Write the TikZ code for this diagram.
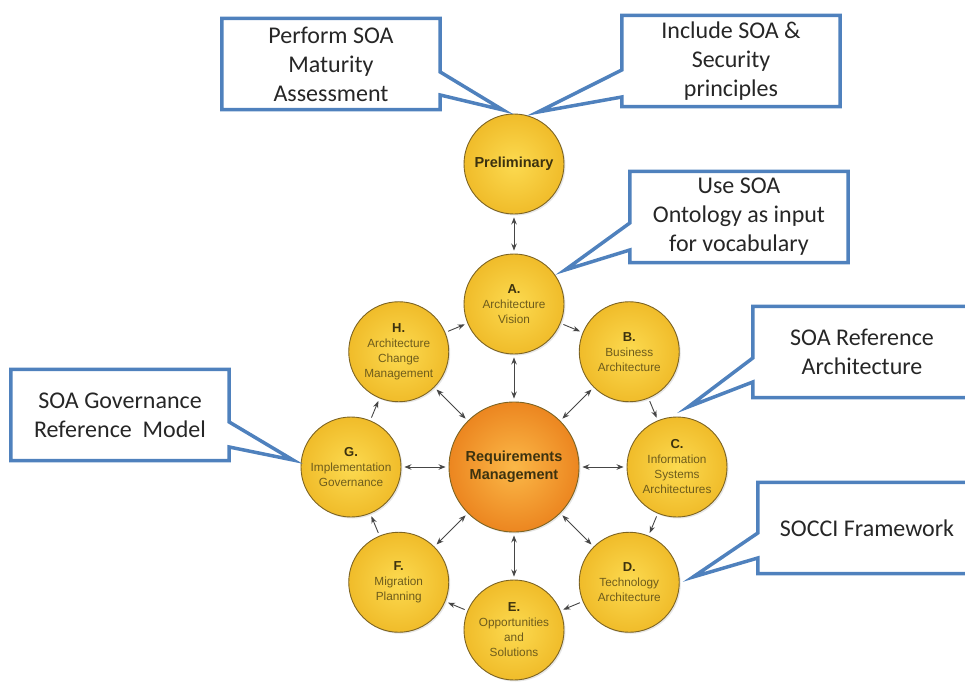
\documentclass[tikz,border=0pt]{standalone}
\usepackage{fontspec}
\setmainfont{Carlito}
\newfontfamily\phasefont{Liberation Sans}
\usetikzlibrary{calc,arrows.meta,shadows}

\definecolor{noteblue}{RGB}{79,129,189}
\definecolor{phaseedge}{RGB}{125,100,35}
\definecolor{phasetext}{RGB}{110,92,28}
\definecolor{phaseletter}{RGB}{60,50,15}
\definecolor{phaselight}{RGB}{252,218,80}
\definecolor{phasedark}{RGB}{240,188,42}
\definecolor{hublight}{RGB}{251,184,72}
\definecolor{hubdark}{RGB}{236,134,32}
\definecolor{linkgray}{RGB}{70,70,70}

\begin{document}
\begin{tikzpicture}[x=1pt, y=-1pt,
    phase/.style={circle, draw=phaseedge, line width=0.9pt, minimum size=100pt,
      inner sep=0pt, align=center, inner color=phaselight, outer color=phasedark,
      text=phasetext, font=\phasefont\fontsize{11.8}{15}\selectfont,
      drop shadow={opacity=0.2, shadow xshift=1.5pt, shadow yshift=-1.5pt}},
    hub/.style={phase, minimum size=130pt, inner color=hublight, outer color=hubdark,
      text=phaseletter, font=\phasefont\bfseries\fontsize{14.5}{18}\selectfont},
    note/.style={rectangle, minimum width=218pt, minimum height=91pt, inner sep=0pt,
      align=center, text={black!85}, font=\fontsize{24}{29}\selectfont},
    noteline/.style={draw=noteblue, line width=3.5pt, line join=miter},
    link/.style={{Stealth[length=7pt,width=5.5pt]}-{Stealth[length=7pt,width=5.5pt]},
      draw=linkgray, line width=0.9pt, shorten <=3pt, shorten >=3pt},
    flow/.style={-{Stealth[length=7pt,width=5.5pt]},
      draw=linkgray, line width=0.9pt, shorten <=3pt, shorten >=3pt}]

    \useasboundingbox (0,0) rectangle (965,682);
    \clip (0,0) rectangle (965,682);

    % hub and phase wheel
    \node[hub] (RM) at (514,467) {Requirements\\Management};
    \foreach \ang/\nm/\lbl in {
        -90/A/{Architecture\\Vision},
        -45/B/{Business\\Architecture},
        0/C/{Information\\Systems\\Architectures},
        45/D/{Technology\\Architecture},
        90/E/{Opportunities\\and\\Solutions},
        135/F/{Migration\\Planning},
        180/G/{Implementation\\Governance},
        225/H/{Architecture\\Change\\Management}} {
      \node[phase] (\nm) at ($(RM)+(\ang:163)$)
        {{\bfseries\fontsize{13}{15}\selectfont\color{phaseletter}\nm.}\\\lbl};
    }
    \node[phase, text=phaseletter, font=\phasefont\bfseries\fontsize{14.5}{17}\selectfont]
      (prelim) at (514,164) {Preliminary};

    % connectors
    \draw[link] (prelim) -- (A);
    \foreach \nm in {A,...,H}
      \draw[link] (RM) -- (\nm);
    \foreach \from/\to in {A/B,B/C,C/D,D/E,E/F,F/G,G/H,H/A}
      \draw[flow] (\from) -- (\to);

    % callouts
    \node[note] (perform) at (331,64) {Perform SOA\\Maturity\\Assessment};
    \node[note] (include) at (731,61) {Include SOA \&\\Security\\principles};
    \node[note] (ontology) at (739,217) {Use SOA\\Ontology as input\\for vocabulary};
    \node[note] (refarch) at (862,352) {SOA Reference\\Architecture};
    \node[note] (socci) at (867,528) {SOCCI Framework};
    \node[note] (gov) at (120,415) {SOA Governance\\Reference\ \ Model};

    \coordinate (tipperform) at (503,110);
    \coordinate (tipinclude) at (538,112);
    \coordinate (tipontology) at (565,270);
    \coordinate (tiprefarch) at (688,407);
    \coordinate (tipsocci) at (693,577);
    \coordinate (tipgov) at (293,460);

    \foreach \nm/\side/\opp/\top/\bot in {perform/east/west/8/31, include/west/east/9/36,
        ontology/west/east/6/33, refarch/west/east/6/30, socci/west/east/5/30,
        gov/east/west/7/32}
      \draw[noteline] ($(\nm.\side)+(0,\top)$) -- (tip\nm) -- ($(\nm.\side)+(0,\bot)$)
        -- (\nm.south \side) -- (\nm.south \opp) -- (\nm.north \opp)
        -- (\nm.north \side) -- cycle;
\end{tikzpicture}
\end{document}
